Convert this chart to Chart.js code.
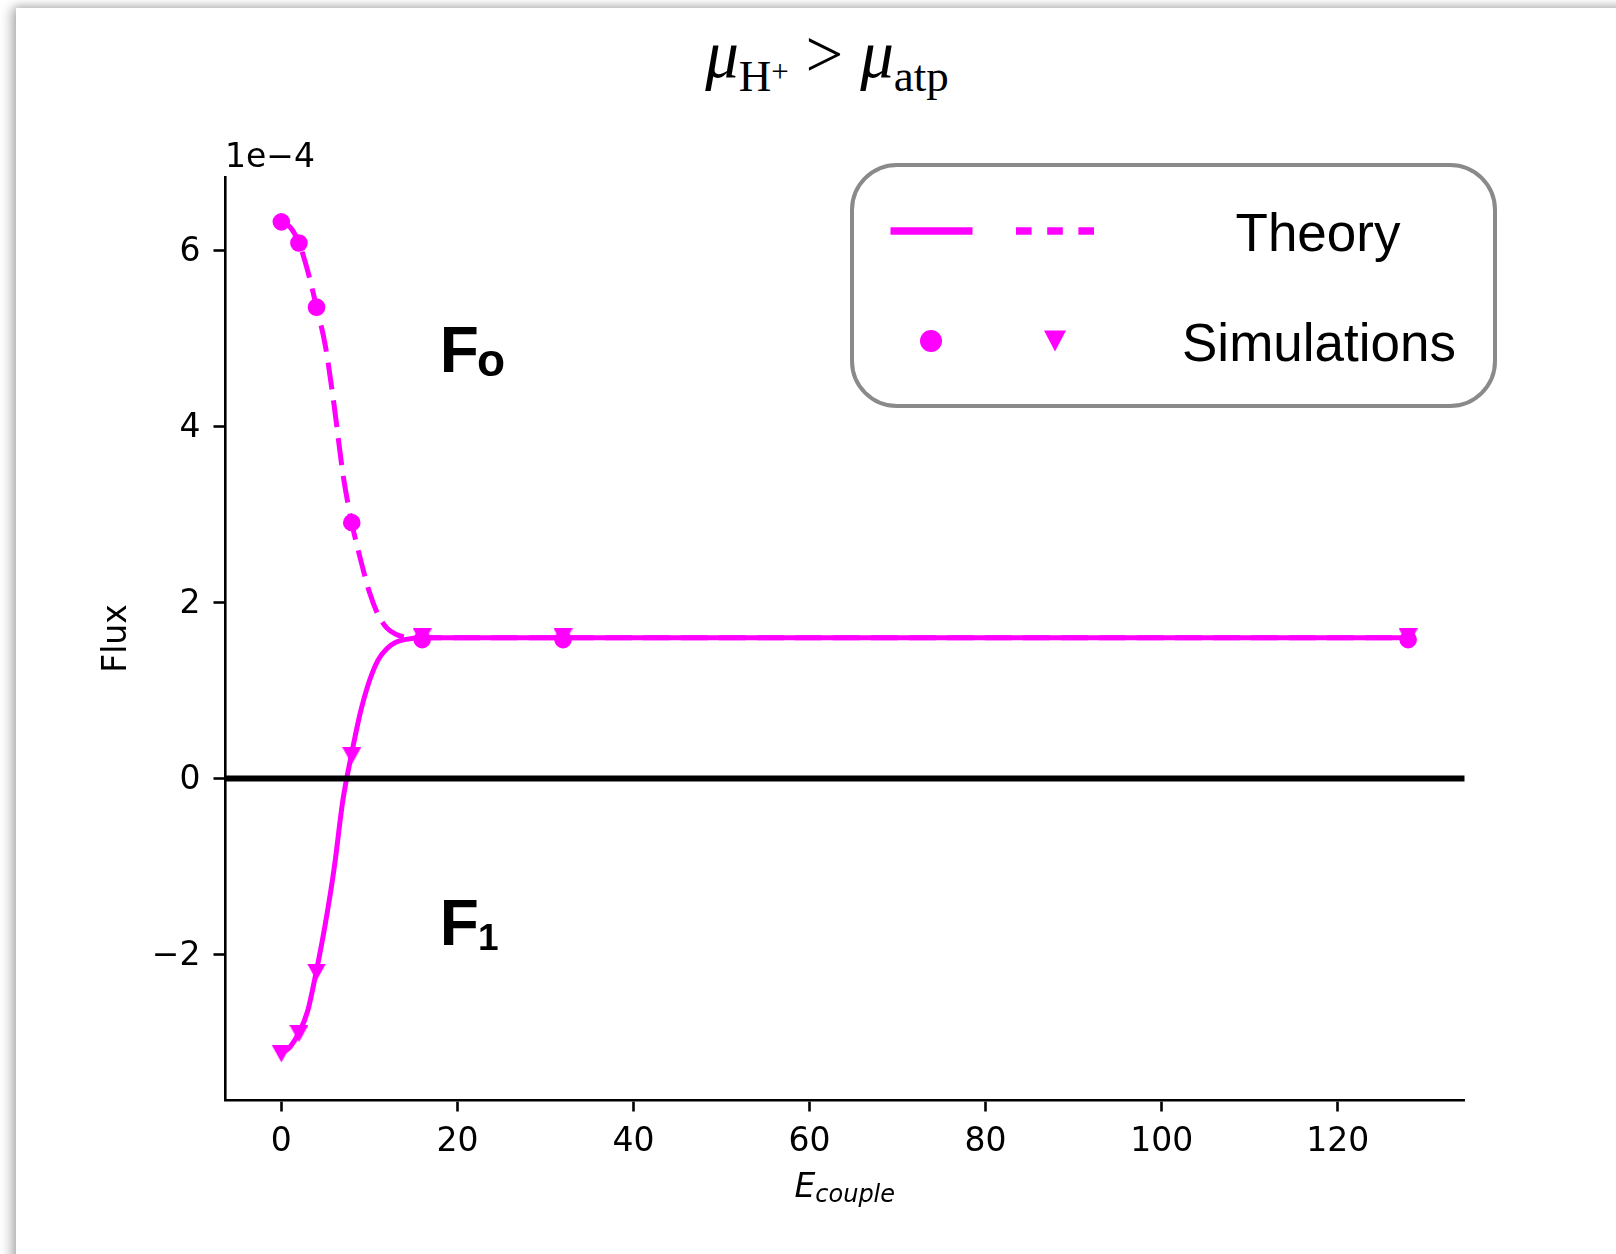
<!DOCTYPE html>
<html>
<head>
<meta charset="utf-8">
<script src="https://cdn.jsdelivr.net/npm/chart.js@4.4.1/dist/chart.umd.min.js"></script>
<style>
  html, body { margin: 0; padding: 0; width: 1616px; height: 1254px; overflow: hidden; background: #fff; }
  #panel {
    position: absolute; left: 16px; top: 8px; width: 1700px; height: 1400px; background: #fff;
    box-shadow: -5px 0 11px rgba(0,0,0,0.28), 0 -3px 7px rgba(0,0,0,0.12);
  }
  #wrap { position: absolute; left: 0; top: 0; width: 1616px; height: 1254px; }
  #title {
    position: absolute; top: 16px; left: 0; width: 1654px; text-align: center;
    font-family: "Liberation Serif", serif; font-size: 67px; color: #000; white-space: nowrap;
  }
  #title .it { font-style: italic; }
  #title .sub { font-size: 45px; position: relative; top: 14px; }
  #title .sup { font-size: 31px; position: relative; top: -9px; }
</style>
</head>
<body>
<div id="panel"></div>
<div id="title"><span class="it">μ</span><span class="sub">H<span class="sup">+</span></span> &gt; <span class="it">μ</span><span class="sub">atp</span></div>
<div id="wrap"><canvas id="mainChart"></canvas></div>
<script>
// values in units of 1e-4
const simX = [0, 2, 4, 8, 16, 32, 128];
const foSim = [6.33, 6.09, 5.36, 2.91, 1.58, 1.58, 1.58];
const f1Sim = [-3.13, -2.90, -2.20, 0.26, 1.61, 1.61, 1.61];

const theoryX = [0, 1, 2, 3, 4, 5, 6, 7, 8, 9, 10, 11, 12, 13, 14, 16, 20, 32, 64, 128];
const foTheory = [6.33, 6.27, 6.09, 5.77, 5.36, 4.92, 4.24, 3.46, 2.91, 2.49, 2.12, 1.86, 1.71, 1.64, 1.61, 1.6, 1.6, 1.6, 1.6, 1.6];
const f1Theory = [-3.13, -3.05, -2.89, -2.64, -2.18, -1.65, -1.02, -0.24, 0.29, 0.76, 1.11, 1.35, 1.48, 1.55, 1.58, 1.6, 1.6, 1.6, 1.6, 1.6];

const xTickValues = [0, 20, 40, 60, 80, 100, 120];
const xTickLabels = ['0', '20', '40', '60', '80', '100', '120'];
const yTickValues = [-2, 0, 2, 4, 6];
const yTickLabels = ['\u22122', '0', '2', '4', '6'];

const magenta = '#ff00ff';

function pts(xs, ys) {
    return xs.map((x, i) => ({ x: x, y: ys[i] }));
}

// matplotlib-like 'v' marker
function triangleMarker(w, h) {
    const c = document.createElement('canvas');
    c.width = w; c.height = h;
    const g = c.getContext('2d');
    g.fillStyle = magenta;
    g.beginPath();
    g.moveTo(0, 0);
    g.lineTo(w, 0);
    g.lineTo(w / 2, h);
    g.closePath();
    g.fill();
    return c;
}

const extras = {
    id: 'extras',
    afterDatasetsDraw(chart) {
        const { ctx, chartArea, scales: { x, y } } = chart;
        ctx.save();
        // zero line
        const y0 = y.getPixelForValue(0);
        ctx.strokeStyle = '#000';
        ctx.lineWidth = 6;
        ctx.beginPath();
        ctx.moveTo(chartArea.left, y0);
        ctx.lineTo(chartArea.right, y0);
        ctx.stroke();

        // region labels
        ctx.fillStyle = '#000';
        ctx.textBaseline = 'alphabetic';
        ctx.textAlign = 'left';
        const fx = x.getPixelForValue(18.0);
        let by = y.getPixelForValue(4.62);
        ctx.font = 'bold 64px "Liberation Sans"';
        ctx.fillText('F', fx, by);
        let fw = ctx.measureText('F').width;
        ctx.font = 'bold 46px "Liberation Sans"';
        ctx.fillText('o', fx + fw - 2, by + 4);
        by = y.getPixelForValue(-1.89);
        ctx.font = 'bold 64px "Liberation Sans"';
        ctx.fillText('F', fx, by);
        ctx.font = 'bold 37px "Liberation Sans"';
        ctx.fillText('1', fx + fw - 1, by + 5);
        ctx.restore();
    },
    afterDraw(chart) {
        const { ctx, chartArea } = chart;
        ctx.save();
        ctx.fillStyle = '#000';

        // offset text
        ctx.font = '33px "DejaVu Sans"';
        ctx.textAlign = 'left';
        ctx.textBaseline = 'alphabetic';
        ctx.fillText('1e\u22124', chartArea.left, chartArea.top - 10);

        // y title
        ctx.save();
        ctx.translate(117, (chartArea.top + chartArea.bottom) / 2);
        ctx.rotate(-Math.PI / 2);
        ctx.textAlign = 'center';
        ctx.textBaseline = 'middle';
        ctx.fillText('Flux', 0, 0);
        ctx.restore();

        // x title E_couple
        ctx.font = 'italic 33px "DejaVu Sans"';
        const wE = ctx.measureText('E').width;
        ctx.font = 'italic 24px "DejaVu Sans"';
        const wS = ctx.measureText('couple').width;
        const cx = (chartArea.left + chartArea.right) / 2;
        const sx = cx - (wE + wS) / 2;
        ctx.textAlign = 'left';
        ctx.font = 'italic 33px "DejaVu Sans"';
        ctx.fillText('E', sx, 1197);
        ctx.font = 'italic 24px "DejaVu Sans"';
        ctx.fillText('couple', sx + wE, 1202);

        // legend
        ctx.strokeStyle = '#8a8a8a';
        ctx.lineWidth = 4;
        ctx.beginPath();
        ctx.roundRect(852, 165, 643, 241, 45);
        ctx.fillStyle = '#fff';
        ctx.fill();
        ctx.stroke();

        ctx.strokeStyle = magenta;
        ctx.lineWidth = 7.5;
        ctx.lineCap = 'butt';
        ctx.beginPath();
        ctx.moveTo(890.5, 231);
        ctx.lineTo(972.5, 231);
        ctx.stroke();
        ctx.setLineDash([15.6, 15.6]);
        ctx.beginPath();
        ctx.moveTo(1016, 231);
        ctx.lineTo(1095, 231);
        ctx.stroke();
        ctx.setLineDash([]);

        ctx.fillStyle = magenta;
        ctx.beginPath();
        ctx.arc(931, 341, 11, 0, Math.PI * 2);
        ctx.fill();
        ctx.beginPath();
        ctx.moveTo(1044, 330.5);
        ctx.lineTo(1066, 330.5);
        ctx.lineTo(1055, 351.5);
        ctx.closePath();
        ctx.fill();

        ctx.fillStyle = '#000';
        ctx.font = '53px "Liberation Sans"';
        ctx.textAlign = 'center';
        ctx.fillText('Theory', 1318, 251);
        ctx.fillText('Simulations', 1319, 361);
        ctx.restore();
    }
};

const ctx = document.getElementById('mainChart');

new Chart(ctx, {
    type: 'scatter',
    data: {
        datasets: [
            {
                label: 'F1 simulations',
                data: pts(simX, f1Sim),
                pointStyle: triangleMarker(19, 17),
                pointRadius: 9,
            },
            {
                label: 'Fo simulations',
                data: pts(simX, foSim),
                pointStyle: 'circle',
                pointRadius: 8.8,
                pointBackgroundColor: magenta,
                pointBorderWidth: 0,
            },
            {
                label: 'F1 theory',
                data: pts(theoryX, f1Theory),
                showLine: true,
                borderColor: magenta,
                borderWidth: 5,
                pointRadius: 0,
                cubicInterpolationMode: 'monotone',
            },
            {
                label: 'Fo theory',
                data: pts(theoryX, foTheory),
                showLine: true,
                borderColor: magenta,
                borderWidth: 5,
                borderDash: [27, 11],
                pointRadius: 0,
                cubicInterpolationMode: 'monotone',
            }
        ]
    },
    options: {
        animation: false,
        responsive: true,
        maintainAspectRatio: false,
        events: [],
        layout: { padding: { top: 177, right: 151.5, left: 0, bottom: 0 } },
        plugins: {
            legend: { display: false },
            tooltip: { enabled: false },
            title: { display: false }
        },
        scales: {
            x: {
                type: 'linear',
                min: -6.4,
                max: 134.4,
                afterFit(s) { s.height = 154; },
                afterBuildTicks(s) { s.ticks = xTickValues.map(v => ({ value: v })); },
                grid: { display: true, drawOnChartArea: false, drawTicks: true, tickLength: 11.5, tickWidth: 2.6, tickColor: '#000' },
                border: { display: true, color: '#000', width: 2.6 },
                ticks: {
                    color: '#000',
                    font: { family: 'DejaVu Sans', size: 33 },
                    padding: 11,
                    maxRotation: 0,
                    autoSkip: false,
                    callback: (v, i) => xTickLabels[i]
                }
            },
            y: {
                type: 'linear',
                min: -3.655,
                max: 6.84,
                afterFit(s) { s.width = 225; },
                afterBuildTicks(s) { s.ticks = yTickValues.map(v => ({ value: v })); },
                grid: { display: true, drawOnChartArea: false, drawTicks: true, tickLength: 11.5, tickWidth: 2.6, tickColor: '#000' },
                border: { display: true, color: '#000', width: 2.6 },
                ticks: {
                    color: '#000',
                    font: { family: 'DejaVu Sans', size: 33 },
                    padding: 13,
                    labelOffset: 2,
                    autoSkip: false,
                    callback: (v, i) => yTickLabels[i]
                }
            }
        }
    },
    plugins: [extras]
});
</script>
</body>
</html>
